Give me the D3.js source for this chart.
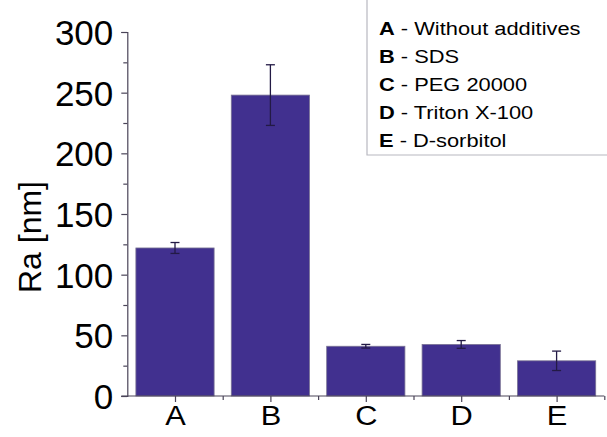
<!DOCTYPE html>
<html><head><meta charset="utf-8">
<script src="https://cdn.jsdelivr.net/npm/d3@7"></script>
<style>body{margin:0;background:#fff}svg{display:block;font-family:"Liberation Sans",Arial,sans-serif}</style>
</head><body>
<svg id="c" width="607" height="437"></svg>
<script>
const categories = ["A","B","C","D","E"];
const values = [122, 248, 41, 42.5, 29];
const errors = [4.5, 25, 1.5, 3.2, 8];
const yTicks = [0,50,100,150,200,250,300];
const legendKeys = ["A","B","C","D","E"];
const legendLabels = ["Without additives","SDS","PEG 20000","Triton X-100","D-sorbitol"];

const svg = d3.select("#c");
const x = d3.scaleLinear().domain([0.5,5.5]).range([127.3,604.3]);
const y = d3.scaleLinear().domain([0,300]).range([396,32]);
const barColor = "#41308f";
const axisColor = "#4a4458";
const bw = x(1.41)-x(0.59);
const FONT = "Liberation Sans, Arial, sans-serif";

// bars
svg.selectAll("rect.bar").data(values).enter().append("rect")
  .attr("x",(d,i)=>x(i+1)-bw/2).attr("width",bw)
  .attr("y",d=>y(d)).attr("height",d=>y(0)-y(d))
  .attr("fill",barColor).attr("stroke","#7a7394").attr("stroke-width",0.8);

// error bars
const eg = svg.append("g").attr("stroke","#231a45").attr("stroke-width",1.3);
values.forEach((v,i)=>{
  const cx = x(i+1);
  eg.append("line").attr("x1",cx).attr("x2",cx).attr("y1",y(v+errors[i])).attr("y2",y(v-errors[i]));
  eg.append("line").attr("x1",cx-4.5).attr("x2",cx+4.5).attr("y1",y(v+errors[i])).attr("y2",y(v+errors[i]));
  eg.append("line").attr("x1",cx-4.5).attr("x2",cx+4.5).attr("y1",y(v-errors[i])).attr("y2",y(v-errors[i]));
});

// y axis
const yAxis = d3.axisLeft(y).tickValues(yTicks).tickSize(6).tickPadding(8).tickFormat(d3.format("d"));
const ga = svg.append("g").attr("transform","translate(127.3,0)").call(yAxis);
ga.select(".domain").attr("stroke",axisColor).attr("stroke-width",1.2);
ga.selectAll(".tick line").attr("stroke",axisColor).attr("stroke-width",1.2);
ga.selectAll(".tick text").attr("font-size",35).attr("fill","#000").attr("font-family",FONT).attr("dy","0.36em");
const yMinor = d3.axisLeft(y).tickValues(d3.range(25,300,50)).tickSize(4).tickFormat("");
const gm = svg.append("g").attr("transform","translate(127.3,0)").call(yMinor);
gm.select(".domain").remove();
gm.selectAll(".tick line").attr("stroke",axisColor).attr("stroke-width",1.2);

// x axis
const xAxis = d3.axisBottom(x).tickValues([1,2,3,4,5]).tickSize(6).tickPadding(3).tickFormat((d)=>categories[d-1]);
const gx = svg.append("g").attr("transform","translate(0,396)").call(xAxis);
gx.select(".domain").attr("stroke",axisColor).attr("stroke-width",1.2).attr("d","M121.3,0H604.3");
gx.selectAll(".tick line").attr("stroke",axisColor).attr("stroke-width",1.2);
gx.selectAll(".tick text").attr("font-size",28).attr("fill","#000").attr("font-family",FONT)
  .attr("transform","scale(1.1,1)");
const xMinor = d3.axisBottom(x).tickValues([1.5,2.5,3.5,4.5,5.5]).tickSize(4).tickFormat("");
const gxm = svg.append("g").attr("transform","translate(0,396)").call(xMinor);
gxm.select(".domain").remove();
gxm.selectAll(".tick line").attr("stroke",axisColor).attr("stroke-width",1.2);

// y label
svg.append("text").attr("transform","translate(41,237) rotate(-90)").attr("text-anchor","middle")
  .attr("font-size",32).attr("fill","#000").text("Ra [nm]");

// legend
svg.append("path").attr("d","M367,0V155H607").attr("fill","none").attr("stroke","#b8b8c0").attr("stroke-width",1.2);
const lg = svg.append("g").attr("transform","translate(379,0) scale(1.15,1)");
legendKeys.forEach((k,i)=>{
  const t = lg.append("text").attr("x",0).attr("y",35+i*28).attr("font-size",19).attr("fill","#000");
  t.append("tspan").attr("font-weight","bold").text(k);
  t.append("tspan").text(" - "+legendLabels[i]);
});
</script>
</body></html>
